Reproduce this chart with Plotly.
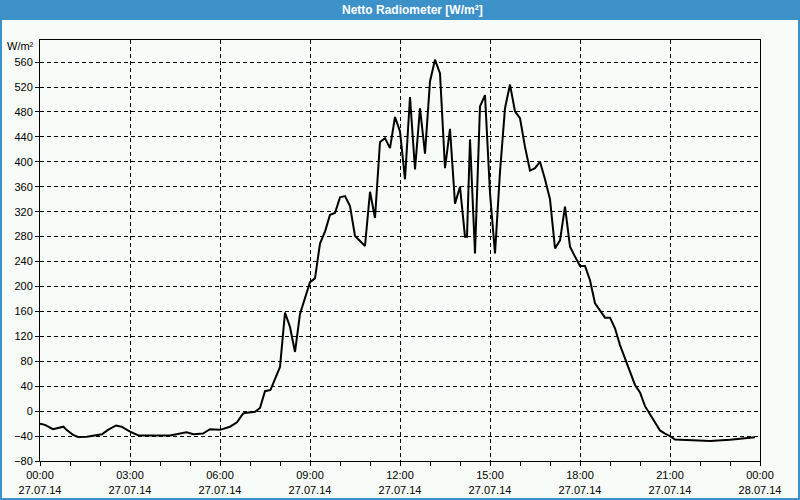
import plotly.graph_objects as go

DATE = "2014-07-27"
times = ["00:00","00:10","00:26","00:47","00:53","01:06","01:16","01:34","02:04","02:16",
         "02:32","02:43","03:00","03:17","04:20","04:53","05:07","05:26","05:40","06:00",
         "06:20","06:34","06:46","06:50","07:10","07:20","07:30","07:41","08:00","08:10",
         "08:20","08:30","08:40","09:00","09:10","09:20","09:30","09:40","09:50","10:00",
         "10:10","10:20","10:30","10:50","11:00","11:10","11:20","11:30","11:40","11:50",
         "12:00","12:10","12:20","12:30","12:40","12:50","13:00","13:10","13:20","13:30",
         "13:40","13:50","14:00","14:10","14:14","14:20","14:30","14:40","14:50","15:00",
         "15:10","15:20","15:30","15:40","15:50","16:00","16:10","16:20","16:30","16:40",
         "16:50","17:00","17:10","17:20","17:30","17:40","17:50","18:00","18:10","18:20",
         "18:30","18:40","18:50","19:00","19:10","19:20","19:30","19:40","19:50","20:00",
         "20:10","20:20","20:30","20:40","20:50","21:00","21:10","22:00","22:04","22:20",
         "23:00","23:50"]
values = [-20,-22,-29,-25,-30,-38,-41.5,-41,-37,-30,
          -23,-25,-33,-39,-39,-34,-37,-36,-29,-30,
          -25,-18,-4,-3,-1,5,32,34,71,158,
          135,95,156,207,213,269,288,315,318,343,
          345,329,281,265,352,310,432,438,422,472,
          449,372,504,388,486,413,529,564,542,390,
          453,333,360,280,280,436,253,489,507,350,
          253,384,486,524,481,470,424,386,390,400,
          372,340,261,274,328,264,248,233,233,210,
          173,162,150,150,133,106,85,63,42,30,
          8,-5,-17,-31,-36,-40,-45.6,-47,-48,-48,
          -46,-42]

tick_hours = ["00:00","03:00","06:00","09:00","12:00","15:00","18:00","21:00","00:00"]
tick_dates = ["27.07.14"]*8 + ["28.07.14"]
tick_vals = [f"{DATE} {h}" for h in tick_hours[:-1]] + ["2014-07-28 00:00"]
tick_text = [f"{h}<br>{d}" for h, d in zip(tick_hours, tick_dates)]

x = [f"{DATE} {t}" for t in times]

BLUE = "#3D91C9"
BG = "#F8FCF8"
FONT = "Liberation Sans"

fig = go.Figure(go.Scatter(x=x, y=values, mode="lines",
                           line=dict(color="black", width=2), hoverinfo="skip"))

L, R, T, B = 40, 40, 40, 39
W, H = 800, 500
pw, ph = W - L - R, H - T - B
def px(xp): return (xp - L) / pw
def py(yp): return (H - B - yp) / ph

fig.update_layout(
    width=W, height=H,
    margin=dict(l=L, r=R, t=T, b=B, autoexpand=False),
    paper_bgcolor=BG, plot_bgcolor=BG,
    showlegend=False,
    font=dict(family=FONT, size=11, color="black"),
    xaxis=dict(
        range=[f"{DATE} 00:00", "2014-07-28 00:00"],
        tickvals=tick_vals, ticktext=tick_text,
        showgrid=True, gridcolor="black", gridwidth=1, griddash="4px,3px",
        showline=True, linecolor="black", linewidth=1, mirror=True,
        ticks="outside", ticklen=4, tickcolor="black",
        minor=dict(dtick=3600000, ticklen=4, tickcolor="black", showgrid=False, ticks="outside"),
        zeroline=False, tickangle=0, automargin=False,
    ),
    yaxis=dict(
        range=[-80, 595.5], dtick=40, tick0=0,
        showgrid=True, gridcolor="black", gridwidth=1, griddash="4px,3px",
        showline=True, linecolor="black", linewidth=1, mirror=True,
        ticks="outside", ticklen=4, tickcolor="black",
        zeroline=False, automargin=False,
    ),
    shapes=[
        dict(type="rect", xref="paper", yref="paper", x0=px(0), x1=px(800), y0=py(20), y1=py(0),
             fillcolor=BLUE, line=dict(width=0), layer="above"),
        dict(type="rect", xref="paper", yref="paper", x0=px(1), x1=px(799), y0=py(499), y1=py(1),
             fillcolor="rgba(0,0,0,0)", line=dict(color=BLUE, width=2), layer="above"),
    ],
    annotations=[
        dict(text="<b>Netto Radiometer [W/m²]</b>", xref="paper", yref="paper",
             x=px(412), y=py(10), xanchor="center", yanchor="middle", showarrow=False,
             font=dict(family=FONT, size=12, color="white")),
        dict(text="W/m²", xref="paper", yref="paper", x=px(36), y=py(46),
             xanchor="right", yanchor="middle", showarrow=False,
             font=dict(family=FONT, size=11, color="black")),
    ],
)

fig.write_html("out.html")
